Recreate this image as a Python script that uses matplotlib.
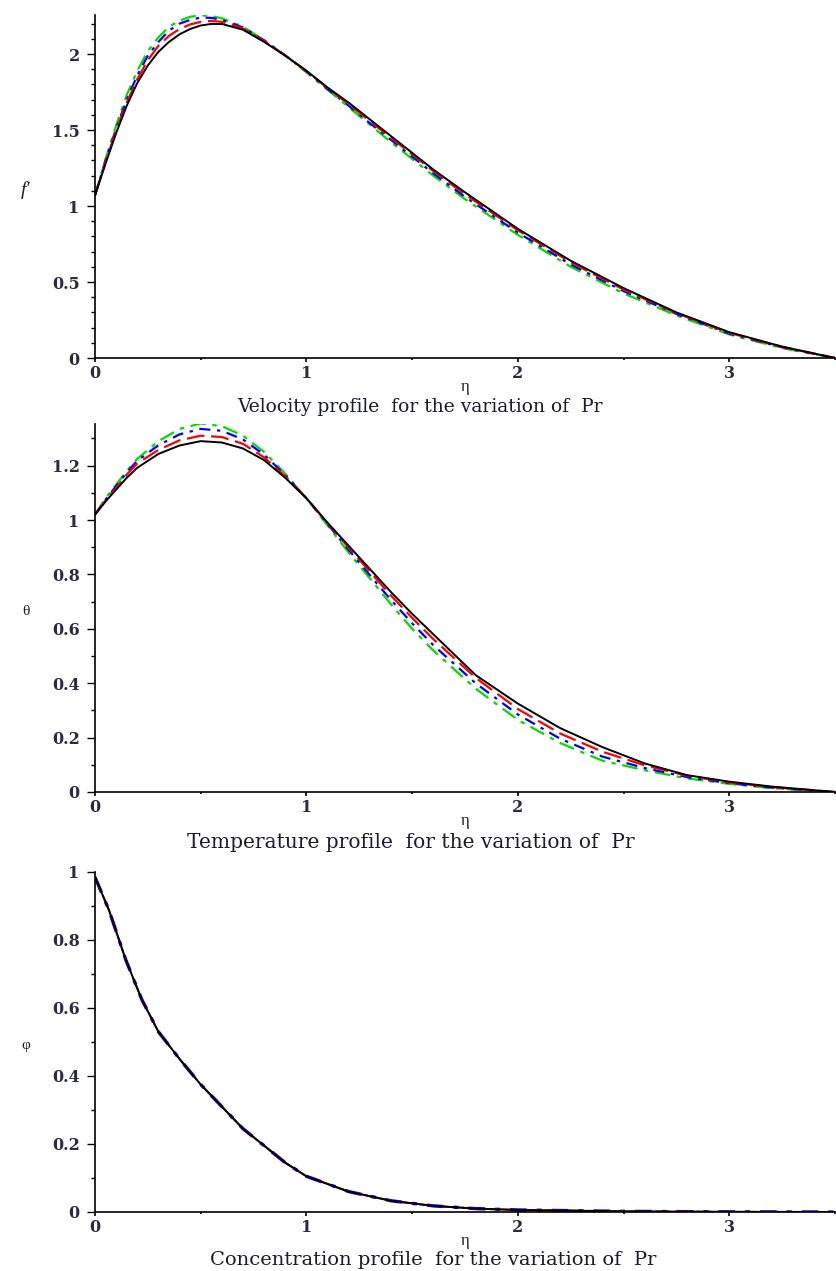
import matplotlib
matplotlib.use("Agg")
import matplotlib.pyplot as plt
from matplotlib.ticker import MultipleLocator, FuncFormatter

# ---------------- data ----------------
eta_f = [0, 0.05, 0.1, 0.15, 0.2, 0.25, 0.3, 0.35, 0.4, 0.45, 0.5, 0.55, 0.6,
         0.7, 0.8, 0.9, 1.0, 1.1, 1.2, 1.3, 1.4, 1.5, 1.6, 1.75, 2.0, 2.25,
         2.5, 2.75, 3.0, 3.25, 3.5]
f_green = [1.07, 1.31, 1.53, 1.73, 1.89, 2.02, 2.11, 2.18, 2.22, 2.245, 2.255, 2.25, 2.235,
           2.18, 2.09, 1.99, 1.88, 1.765, 1.65, 1.535, 1.42, 1.31, 1.20, 1.045, 0.81, 0.60,
           0.425, 0.28, 0.155, 0.065, 0.0]
f_blue = [1.07, 1.30, 1.51, 1.70, 1.86, 1.99, 2.08, 2.155, 2.20, 2.225, 2.24, 2.238, 2.225,
          2.175, 2.09, 1.99, 1.885, 1.77, 1.66, 1.545, 1.435, 1.325, 1.215, 1.06, 0.825, 0.615,
          0.44, 0.29, 0.16, 0.07, 0.0]
f_red = [1.07, 1.29, 1.50, 1.68, 1.835, 1.96, 2.055, 2.12, 2.165, 2.195, 2.212, 2.218, 2.212,
         2.168, 2.085, 1.99, 1.888, 1.776, 1.67, 1.558, 1.448, 1.34, 1.23, 1.077, 0.84, 0.63,
         0.45, 0.295, 0.165, 0.073, 0.0]
f_black = [1.07, 1.28, 1.48, 1.66, 1.81, 1.925, 2.015, 2.08, 2.13, 2.165, 2.188, 2.198, 2.198,
           2.16, 2.08, 1.99, 1.89, 1.78, 1.68, 1.57, 1.46, 1.35, 1.24, 1.09, 0.85, 0.64,
           0.46, 0.30, 0.17, 0.075, 0.0]

eta_t = [0, 0.05, 0.1, 0.15, 0.2, 0.3, 0.4, 0.5, 0.6, 0.7, 0.8, 0.9, 1.0, 1.1, 1.2,
         1.3, 1.4, 1.5, 1.6, 1.8, 2.0, 2.2, 2.4, 2.6, 2.8, 3.0, 3.2, 3.5]
t_green = [1.02, 1.08, 1.13, 1.18, 1.225, 1.29, 1.335, 1.355, 1.345, 1.31, 1.25, 1.17, 1.08,
           0.98, 0.88, 0.785, 0.69, 0.60, 0.52, 0.38, 0.265, 0.18, 0.115, 0.08, 0.05, 0.03,
           0.014, 0.0]
t_blue = [1.02, 1.075, 1.125, 1.175, 1.218, 1.275, 1.315, 1.335, 1.328, 1.296, 1.24, 1.165,
          1.08, 0.985, 0.89, 0.797, 0.706, 0.62, 0.54, 0.40, 0.285, 0.196, 0.13, 0.088, 0.055,
          0.032, 0.016, 0.0]
t_red = [1.02, 1.072, 1.118, 1.167, 1.208, 1.258, 1.293, 1.31, 1.305, 1.28, 1.23, 1.16, 1.08,
         0.988, 0.898, 0.81, 0.722, 0.64, 0.562, 0.42, 0.305, 0.215, 0.148, 0.098, 0.06,
         0.035, 0.018, 0.0]
t_black = [1.02, 1.068, 1.112, 1.155, 1.192, 1.243, 1.274, 1.29, 1.285, 1.263, 1.22, 1.155,
           1.08, 0.99, 0.905, 0.82, 0.735, 0.655, 0.58, 0.43, 0.325, 0.235, 0.165, 0.105,
           0.062, 0.038, 0.02, 0.0]

eta_c = [0, 0.066, 0.146, 0.222, 0.3, 0.4, 0.5, 0.6, 0.7, 0.8, 0.9, 1.0, 1.2, 1.4, 1.6,
         1.8, 2.0, 2.5, 3.0, 3.5]
phi_all = [0.985, 0.888, 0.741, 0.624, 0.53, 0.45, 0.375, 0.31, 0.245, 0.195, 0.145, 0.105,
           0.06, 0.033, 0.018, 0.01, 0.006, 0.002, 0.0005, 0.0]

titles = ["Velocity profile  for the variation of  Pr",
          "Temperature profile  for the variation of  Pr",
          "Concentration profile  for the variation of  Pr"]
ylabels = ["f\u2032", "\u03b8", "\u03c6"]

# ---------------- figure ----------------
W, H = 836, 1271
fig = plt.figure(figsize=(W / 100, H / 100), dpi=100)
SERIF = ["Liberation Serif", "DejaVu Serif"]
WIDE = ["DejaVu Serif"]
tick_color = "#2a2a40"
text_color = "#1a1a30"

def px_axes(top, bottom, left=95, right=835):
    return [left / W, 1 - bottom / H, (right - left) / W, (bottom - top) / H]

styles = [
    dict(color="#00dd00", dashes=(7, 3, 2, 3)),
    dict(color="#0000ff", dashes=(5, 3, 1.5, 3)),
    dict(color="#ff0000", dashes=(8, 3)),
    dict(color="black", linestyle="-"),
]

panels = [
    dict(rect=(15, 358), ylim=(0, 2.257), major=0.5, eta=eta_f,
         series=[f_green, f_blue, f_red, f_black],
         title_x=420, title_fs=13.5, title_dy=49),
    dict(rect=(424, 792), ylim=(0, 1.353), major=0.2, eta=eta_t,
         series=[t_green, t_blue, t_red, t_black],
         title_x=411, title_fs=14.5, title_dy=50),
    dict(rect=(872, 1212), ylim=(0, 1.0), major=0.2, eta=eta_c,
         series=[phi_all, phi_all, phi_all, phi_all],
         title_x=433, title_fs=14.0, title_dy=48),
]

fmt = FuncFormatter(lambda v, p: ("%g" % round(v, 6)))

for i, p in enumerate(panels):
    top, bottom = p["rect"]
    ax = fig.add_axes(px_axes(top, bottom))
    for s, st in zip(p["series"], styles):
        lw = 1.6 if st["color"] != "black" else 1.4
        if i == 2:
            lw = {"#0000ff": 2.4}.get(st["color"], 1.4)
        ax.plot(p["eta"], s, lw=lw, **st)
    ax.set_xlim(0, 3.5)
    ax.set_ylim(*p["ylim"])
    for sp in ["top", "right"]:
        ax.spines[sp].set_visible(False)
    for sp in ["left", "bottom"]:
        ax.spines[sp].set_linewidth(1.2)
    ax.xaxis.set_major_locator(MultipleLocator(1))
    ax.xaxis.set_minor_locator(MultipleLocator(0.5))
    ax.yaxis.set_major_locator(MultipleLocator(p["major"]))
    ax.yaxis.set_minor_locator(MultipleLocator(0.1))
    ax.xaxis.set_major_formatter(fmt)
    ax.yaxis.set_major_formatter(fmt)
    ax.tick_params(axis="x", which="major", length=3, width=1.2, direction="out", pad=2)
    ax.tick_params(axis="x", which="minor", length=1.5, width=1.2, direction="out")
    ax.tick_params(axis="y", which="major", length=6, width=1.0, direction="out", pad=5)
    ax.tick_params(axis="y", which="minor", length=3, width=1.0, direction="out")
    for lab in ax.get_xticklabels() + ax.get_yticklabels():
        lab.set_fontfamily(WIDE)
        lab.set_fontsize(11.5)
        lab.set_color(tick_color)
        lab.set_fontweight("bold")
    ax.set_facecolor("none")
    fig.text(465 / W, 1 - (bottom + 29) / H, "\u03b7", ha="center", va="center",
             fontsize=12, family=SERIF, color=text_color)
    fig.text(p["title_x"] / W, 1 - (bottom + p["title_dy"]) / H, titles[i], ha="center",
             va="center", fontsize=p["title_fs"], family=WIDE, color=text_color)
    fig.text(26 / W, 1 - ((top + bottom) / 2 + 4) / H, ylabels[i], ha="center",
             va="center", fontsize=14 if i == 0 else 11, family=SERIF,
             style="italic" if i == 0 else "normal", color=text_color)

fig.savefig("out.png", dpi=100)
